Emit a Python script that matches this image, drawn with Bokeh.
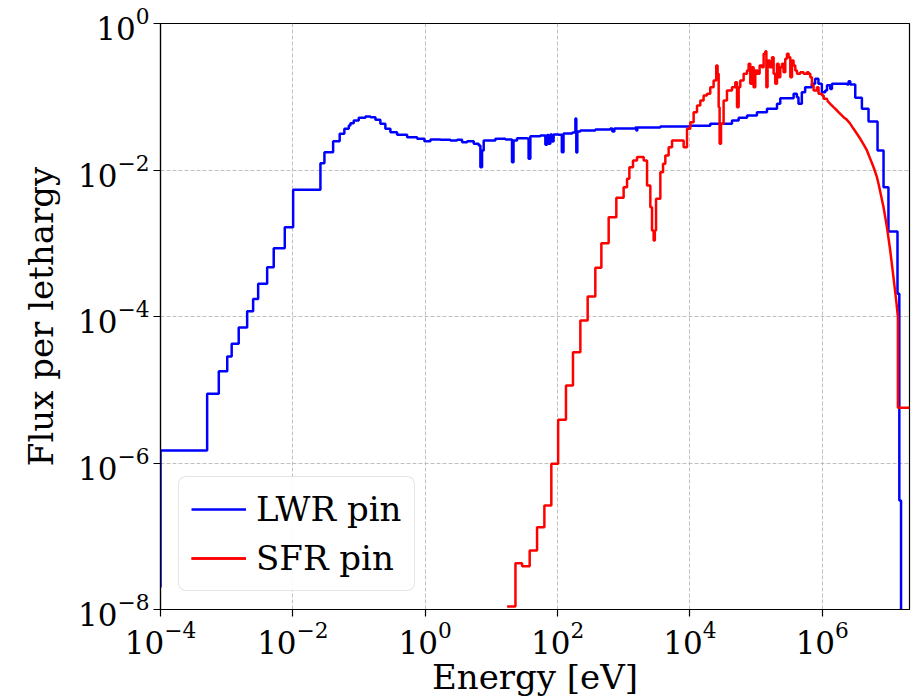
from bokeh.plotting import figure
from bokeh.models import Range1d, FixedTicker, Legend, LegendItem
from bokeh.embed import file_html
from bokeh.resources import INLINE

# ---- data (energy in eV, flux per lethargy); step values hold from E_i to E_{i+1}
lwr_energy = [1e-4, 1e-4, 5.07e-4, 7.6e-4, 1.02e-3, 1.19e-3, 1.52e-3, 2.04e-3, 2.51e-3, 2.99e-3,
              4.09e-3, 5.14e-3, 7.55e-3, 1.01e-2, 2.61e-2, 3.0e-2, 4.06e-2, 5.1e-2, 6.0e-2, 7.0e-2,
              7.41e-2, 8.32e-2, 9.9e-2, 0.125, 0.149, 0.177, 0.21, 0.25, 0.298, 0.376,
              0.533, 0.755, 0.973, 1.2, 1.7, 2.4, 3.03, 3.61, 4.3, 5.41,
              6.43, 6.82, 7.23, 7.65, 11.5, 16.3, 20.5, 21.6, 24.4, 34.8,
              36.5, 38.8, 55, 65.4, 69.3, 73.1, 77.8, 82.4, 87.1, 103.5,
              116, 123, 167, 186, 192, 199, 221, 372, 628, 673,
              721, 1496, 1550, 1603, 3570, 1.01e4, 2.03e4, 4.32e4, 5.45e4, 7.3e4,
              1.03e5, 1.46e5, 2.07e5, 2.32e5, 3.69e5, 4.13e5, 4.37e5, 4.91e5, 5.51e5, 6.95e5,
              7.8e5, 8.75e5, 9.85e5, 1.11e6, 1.18e6, 1.32e6, 1.4e6, 2.36e6, 2.5e6, 2.65e6,
              3.15e6, 3.97e6, 5.0e6, 6.84e6, 8.43e6, 1.0e7, 1.37e7, 1.46e7, 1.55e7]
lwr_flux = [2e-8, 1.48e-6, 8.8e-6, 1.79e-5, 2.84e-5, 4.24e-5, 7.1e-5, 1.18e-4, 1.74e-4, 2.79e-4,
            4.71e-4, 8.55e-4, 1.66e-3, 5.37e-3, 1.24e-2, 1.75e-2, 2.47e-2, 3.12e-2, 3.65e-2, 4.05e-2,
            4.35e-2, 4.74e-2, 5.16e-2, 5.37e-2, 5.26e-2, 4.84e-2, 4.27e-2, 3.65e-2, 3.28e-2, 3.03e-2,
            2.8e-2, 2.67e-2, 2.47e-2, 2.61e-2, 2.59e-2, 2.53e-2, 2.59e-2, 2.4e-2, 2.47e-2, 2.28e-2,
            2.16e-2, 1.09e-2, 1.85e-2, 2.53e-2, 2.67e-2, 2.61e-2, 1.28e-2, 2.53e-2, 2.72e-2, 2.7e-2,
            1.42e-2, 2.89e-2, 2.96e-2, 2.21e-2, 3.0e-2, 2.28e-2, 3.05e-2, 2.45e-2, 3.05e-2, 3.03e-2,
            1.75e-2, 3.15e-2, 3.25e-2, 5.05e-2, 1.73e-2, 3.36e-2, 3.46e-2, 3.57e-2, 3.69e-2, 3.36e-2,
            3.69e-2, 3.8e-2, 3.46e-2, 3.8e-2, 3.92e-2, 4.01e-2, 4.27e-2, 4.74e-2, 5.16e-2, 5.55e-2,
            6.15e-2, 6.85e-2, 8.01e-2, 9.55e-2, 0.11, 0.0986, 0.0801, 0.115, 0.135, 0.15,
            0.176, 0.15, 0.115, 0.122, 0.143, 0.128, 0.15, 0.147, 0.163, 0.147,
            0.0968, 6.85e-2, 4.59e-2, 1.85e-2, 5.82e-3, 1.45e-3, 2.04e-4, 3.08e-7, 1e-9]

sfr_energy = [17.3, 23.1, 29.1, 37.9, 49.0, 63.2, 80.5, 102, 134, 171,
              221, 285, 372, 459, 592, 773, 996, 1122, 1216, 1381,
              1588, 2000, 2250, 2523, 2675, 2830, 2950, 3076, 3573, 3926,
              4250, 4767, 5370, 8035, 9040, 1.014e4, 1.138e4, 1.28e4, 1.436e4, 1.61e4,
              1.81e4, 2.03e4, 2.28e4, 2.5e4, 2.62e4, 2.72e4, 2.81e4, 2.95e4, 3.23e4, 3.63e4,
              4.32e4, 4.85e4, 5.15e4, 5.45e4, 5.77e4, 6.48e4, 7.29e4, 7.71e4, 8.17e4, 8.67e4,
              9.17e4, 9.72e4, 1.05e5, 1.13e5, 1.23e5, 1.3e5, 1.38e5, 1.43e5, 1.49e5, 1.6e5,
              1.74e5, 1.84e5, 1.95e5, 2.07e5, 2.19e5, 2.32e5, 2.46e5, 2.6e5, 2.76e5, 2.93e5,
              3.1e5, 3.29e5, 3.49e5, 3.68e5, 3.91e5, 4.15e5, 4.65e5, 5.22e5, 5.87e5, 6.21e5,
              6.59e5, 6.99e5, 7.39e5, 8.32e5, 8.79e5, 9.89e5, 1.05e6, 1.18e6]
sfr_flux = [1.1e-8, 4.29e-8, 3.9e-8, 6.39e-8, 1.33e-7, 2.63e-7, 9.75e-7, 3.89e-6, 1.14e-5, 3.26e-5,
            8.81e-5, 1.88e-4, 4.62e-4, 1.0e-3, 2.27e-3, 4.17e-3, 5.82e-3, 7.59e-3, 1.09e-2, 1.35e-2,
            1.5e-2, 1.35e-2, 6.14e-3, 3.1e-3, 1.49e-3, 1.09e-3, 1.49e-3, 4.04e-3, 9.33e-3, 1.22e-2,
            1.58e-2, 2.05e-2, 2.53e-2, 2.05e-2, 3.65e-2, 4.49e-2, 6.15e-2, 7.6e-2, 8.89e-2, 0.104,
            0.11, 0.135, 0.167, 0.267, 0.206, 0.072, 0.0228, 0.0427, 0.0889, 0.122,
            0.135, 0.158, 0.072, 0.135, 0.167, 0.206, 0.228, 0.282, 0.150, 0.253,
            0.135, 0.228, 0.206, 0.267, 0.253, 0.386, 0.419, 0.135, 0.313, 0.253,
            0.347, 0.206, 0.150, 0.282, 0.185, 0.253, 0.282, 0.216, 0.33, 0.386,
            0.347, 0.185, 0.313, 0.267, 0.228, 0.206, 0.216, 0.206, 0.216, 0.206,
            0.185, 0.143, 0.122, 0.135, 0.11, 0.104, 0.0938, 0.0889]

sfr_tail_energy = [1.18e6, 1.32e6, 1.48e6, 1.67e6, 1.87e6, 2.1e6, 2.36e6, 2.65e6, 2.97e6, 3.34e6,
                   3.75e6, 4.21e6, 4.73e6, 5.31e6, 5.96e6, 6.7e6, 7.08e6, 8.43e6, 9.48e6, 1.064e7,
                   1.19e7, 1.31e7, 1.39e7, 1.39e7, 2.08e7]
sfr_tail_flux = [0.0889, 0.0801, 0.072, 0.0649, 0.0585, 0.0526, 0.0484, 0.0427, 0.0365, 0.0312,
                 0.0267, 0.0223, 0.0185, 0.0142, 0.0109, 7.97e-3, 6.48e-3, 3.1e-3, 1.66e-3, 7.96e-4,
                 3.44e-4, 1.65e-4, 9.8e-5, 5.7e-6, 5.7e-6]

x_ticks = [1e-4, 1e-2, 1, 1e2, 1e4, 1e6]
y_ticks = [1e-8, 1e-6, 1e-4, 1e-2, 1]

FONT = "DejaVu Serif"

p = figure(width=920, height=699, x_axis_type="log", y_axis_type="log",
           x_range=Range1d(1e-4, 2.08e7), y_range=Range1d(1e-8, 1),
           output_backend="svg", toolbar_location=None,
           min_border_left=160, min_border_right=11, min_border_top=23, min_border_bottom=90)

p.outline_line_color = "black"
p.outline_line_width = 1.2
p.background_fill_color = "white"
p.border_fill_color = "white"

p.xaxis.ticker = FixedTicker(ticks=x_ticks, minor_ticks=[])
p.yaxis.ticker = FixedTicker(ticks=y_ticks, minor_ticks=[])
for ax in (p.xaxis, p.yaxis):
    ax.major_label_text_font = FONT
    ax.major_label_text_font_size = "31px"
    ax.major_label_text_color = "black"
    ax.axis_label_text_font = FONT
    ax.axis_label_text_font_size = "34px"
    ax.axis_label_text_font_style = "normal"
    ax.axis_label_text_color = "black"
    ax.axis_line_color = "black"
    ax.axis_line_width = 1.2
    ax.major_tick_line_color = "black"
    ax.major_tick_line_width = 1.2
    ax.major_tick_out = 7
    ax.major_tick_in = 0
    ax.minor_tick_line_color = None
p.xaxis.axis_label = "Energy [eV]"
p.yaxis.axis_label = "Flux per lethargy"
p.xaxis.major_label_standoff = 4
p.yaxis.major_label_standoff = 4
p.xaxis.axis_label_standoff = 0
p.yaxis.axis_label_standoff = 14

p.grid.grid_line_color = "#b0b0b0"
p.grid.grid_line_dash = "4 2"
p.grid.grid_line_width = 0.8

r_lwr = p.step(lwr_energy, lwr_flux, mode="after", line_color="#0000ff", line_width=2.5)
r_sfr = p.step(sfr_energy, sfr_flux, mode="after", line_color="#ff0000", line_width=2.5)
r_sfr_tail = p.line(sfr_tail_energy, sfr_tail_flux, line_color="#ff0000", line_width=2.5)

legend = Legend(items=[LegendItem(label="LWR pin", renderers=[r_lwr]),
                       LegendItem(label="SFR pin", renderers=[r_sfr, r_sfr_tail])],
                location="bottom_left")
legend.label_text_font = FONT
legend.label_text_font_size = "34px"
legend.label_text_color = "black"
legend.glyph_width = 55
legend.glyph_height = 34
legend.label_height = 34
legend.label_standoff = 10
legend.padding = 12
legend.spacing = 9
legend.margin = 18
legend.border_line_color = "#cccccc"
legend.border_line_width = 1.5
legend.background_fill_alpha = 0.9
if "border_radius" in legend.properties():
    legend.border_radius = 8
p.add_layout(legend)

open("out.html", "w").write(file_html(p, INLINE))
